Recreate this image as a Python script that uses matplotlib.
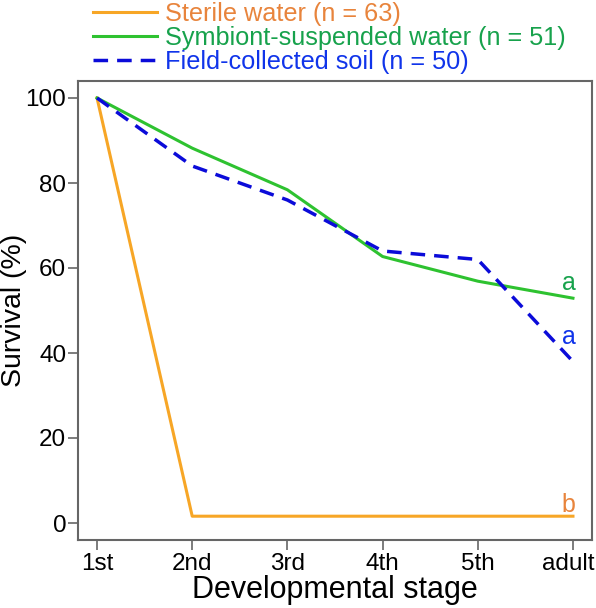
import numpy as np
import matplotlib.pyplot as plt
import matplotlib.transforms as mtransforms
from matplotlib.lines import Line2D

plt.rcParams['font.family'] = ['Liberation Sans', 'DejaVu Sans']

# Data
stages = ["1st", "2nd", "3rd", "4th", "5th", "adult"]
sterile = [100, 1.6, 1.6, 1.6, 1.6, 1.6]
symbiont = [100, 88.2, 78.4, 62.7, 56.9, 52.9]
soil = [100, 84, 76, 64, 62, 38]
labels = ["Sterile water (n = 63)", "Symbiont-suspended water (n = 51)", "Field-collected soil (n = 50)"]
letters = ["b", "a", "a"]

line_cols = ["#F7A626", "#2EC230", "#0B0BD9"]
text_cols = ["#E8843C", "#17A24C", "#1034EA"]
dash = (0, (4.2, 2.6))

x = np.arange(len(stages))

fig = plt.figure(figsize=(5.96, 6.08), dpi=100)
ax = fig.add_axes([78 / 596, 68 / 608, 514 / 596, 459 / 608])

ax.plot(x, sterile, color=line_cols[0], lw=2.2)
ax.plot(x, symbiont, color=line_cols[1], lw=2.2)
ax.plot(x, soil, color=line_cols[2], lw=2.5, ls=dash)

# significance letters at the end of each line
ax.text(5.03, sterile[-1] + 2.6, letters[0], color=text_cols[0], fontsize=18, ha='right', va='center')
ax.text(5.03, symbiont[-1] + 3.5, letters[1], color=text_cols[1], fontsize=18, ha='right', va='center')
ax.text(5.03, soil[-1] + 5.7, letters[2], color=text_cols[2], fontsize=18, ha='right', va='center')

ax.set_xlim(-0.2, 5.2)
ax.set_ylim(-4, 104)
ax.set_xticks(x)
ax.set_xticklabels(stages)
ax.set_yticks([0, 20, 40, 60, 80, 100])
ax.tick_params(axis='both', labelsize=17.5, length=7.5, width=1.2, color='#666666')
ax.tick_params(axis='y', pad=1)
ax.tick_params(axis='x', pad=2)
for s in ax.spines.values():
    s.set_color('#666666')
    s.set_linewidth(1.5)

# nudge "adult" a bit left so it stays inside the figure
last = ax.get_xticklabels()[-1]
last.set_transform(last.get_transform() + mtransforms.ScaledTranslation(-5 / 100, 0, fig.dpi_scale_trans))

ax.set_xlabel("Developmental stage", fontsize=22, labelpad=0)
ax.set_ylabel("Survival (%)", fontsize=20.5)
ax.yaxis.set_label_coords(-51 / 514, 0.5)

handles = [Line2D([0], [0], color=line_cols[0], lw=2.2),
           Line2D([0], [0], color=line_cols[1], lw=2.2),
           Line2D([0], [0], color=line_cols[2], lw=2.5, ls=dash)]
leg = fig.legend(handles, labels, loc='upper left', bbox_to_anchor=(80 / 596, 1 + 11 / 608),
                 frameon=False, fontsize=18.2, handlelength=2.55, handletextpad=0.3,
                 labelspacing=0.0, borderpad=0)
for t, c in zip(leg.get_texts(), text_cols):
    t.set_color(c)

fig.savefig("out.png", dpi=100)
